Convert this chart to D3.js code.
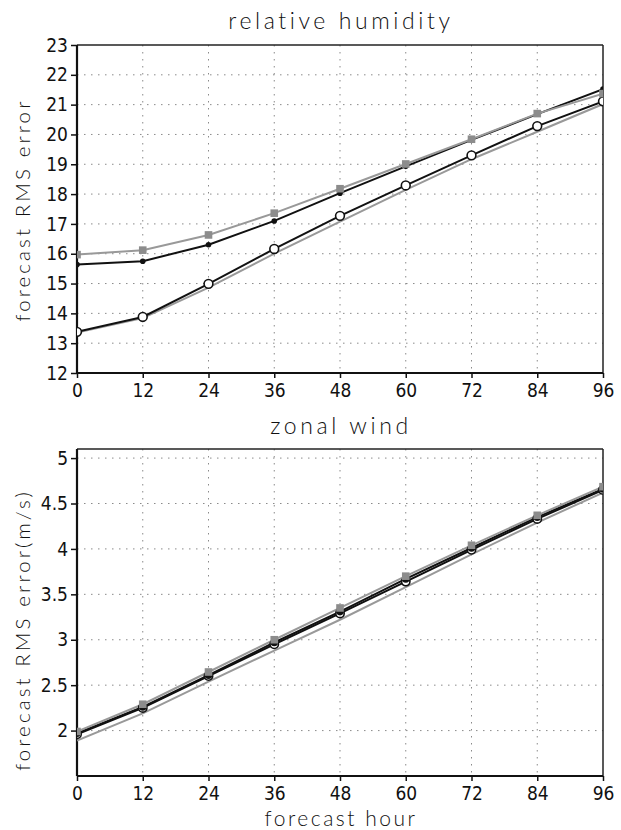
<!DOCTYPE html>
<html>
<head>
<meta charset="utf-8">
<script src="https://cdn.jsdelivr.net/npm/d3@7"></script>
<style>
  html, body { margin: 0; padding: 0; background: #fff; }
  svg { display: block; }
  .tick-label { font-family: "Liberation Sans Narrow", "DejaVu Sans Condensed", "Liberation Sans", sans-serif; font-size: 19px; fill: #111; }
  .title, .axis-title { font-family: "Lato", "DejaVu Sans", sans-serif; font-weight: 300; fill: #111; }
</style>
</head>
<body>
<script>
// Forecast lead times (hours)
const hours = [0, 12, 24, 36, 48, 60, 72, 84, 96];

// Relative humidity RMS error
const rhSquare = [15.97, 16.12, 16.63, 17.36, 18.18, 19.01, 19.84, 20.70, 21.37];
const rhFilled = [15.64, 15.75, 16.30, 17.10, 18.03, 18.93, 19.82, 20.68, 21.52];
const rhOpen   = [13.38, 13.88, 14.99, 16.16, 17.27, 18.29, 19.30, 20.28, 21.11];
const rhPlain  = [13.36, 13.84, 14.86, 16.00, 17.08, 18.14, 19.17, 20.09, 21.02];
const rhTicks  = [12, 13, 14, 15, 16, 17, 18, 19, 20, 21, 22, 23];

// Zonal wind RMS error (m/s)
const uSquare = [1.99, 2.29, 2.645, 3.00, 3.35, 3.70, 4.04, 4.37, 4.685];
const uFilled = [1.97, 2.26, 2.61, 2.97, 3.31, 3.67, 4.01, 4.35, 4.66];
const uOpen   = [1.96, 2.25, 2.60, 2.95, 3.29, 3.64, 3.99, 4.33, 4.65];
const uPlain  = [1.89, 2.19, 2.54, 2.88, 3.22, 3.58, 3.94, 4.29, 4.62];
const uTicks  = [2, 2.5, 3, 3.5, 4, 4.5, 5];
const uTickLabels = ["2", "2.5", "3", "3.5", "4", "4.5", "5"];

const W = 621, H = 830;
const svg = d3.select("body").append("svg").attr("width", W).attr("height", H);

function panel(cfg) {
  const x = d3.scaleLinear().domain([0, 96]).range([77, 603]);
  const y = d3.scaleLinear().domain(cfg.yDomain).range([cfg.bottom, cfg.top]);
  const g = svg.append("g");
  const clipId = "clip" + cfg.id;
  svg.append("clipPath").attr("id", clipId).append("rect")
    .attr("x", 77).attr("y", cfg.top).attr("width", 526).attr("height", cfg.bottom - cfg.top);

  // dotted grid
  g.append("g").selectAll("line").data(hours.filter(h => h > 0 && h < 96)).join("line")
    .attr("x1", d => x(d)).attr("x2", d => x(d)).attr("y1", cfg.top).attr("y2", cfg.bottom)
    .attr("stroke", "#8a8a8a").attr("stroke-width", 1).attr("stroke-dasharray", "1.5,5.5");
  g.append("g").selectAll("line").data(cfg.yTicks.filter(v => y(v) > cfg.top + 1 && y(v) < cfg.bottom - 1)).join("line")
    .attr("x1", 77).attr("x2", 603).attr("y1", d => y(d)).attr("y2", d => y(d))
    .attr("stroke", "#8a8a8a").attr("stroke-width", 1).attr("stroke-dasharray", "1.5,5.5");

  // frame
  g.append("line").attr("x1", 77).attr("x2", 603).attr("y1", cfg.top).attr("y2", cfg.top)
    .attr("stroke", "#222").attr("stroke-width", 1.5);
  g.append("line").attr("x1", 603).attr("x2", 603).attr("y1", cfg.top).attr("y2", cfg.bottom)
    .attr("stroke", "#222").attr("stroke-width", 1.5);

  // axes
  const yAxis = d3.axisLeft(y).tickValues(cfg.yTicks).tickSize(6).tickPadding(3)
    .tickFormat((d, i) => cfg.yLabels[i]);
  const ya = g.append("g").attr("transform", "translate(77,0)").call(yAxis);
  const xAxis = d3.axisBottom(x).tickValues(hours).tickSize(5).tickPadding(6);
  const xa = g.append("g").attr("transform", `translate(0,${cfg.bottom})`).call(xAxis);
  [ya, xa].forEach(a => {
    a.select(".domain").attr("stroke", "#111").attr("stroke-width", 2.2);
    a.selectAll(".tick line").attr("stroke", "#111").attr("stroke-width", 1.5);
    a.selectAll(".tick text").attr("class", "tick-label").attr("font-family", null).attr("font-size", null);
  });
  ya.select(".domain").attr("d", `M0,${cfg.bottom}V${cfg.top}`);
  xa.select(".domain").attr("d", "M77,0H603");

  // series
  const plot = g.append("g").attr("clip-path", `url(#${clipId})`);
  const line = d3.line().x((d, i) => x(hours[i])).y(d => y(d));
  plot.append("path").datum(cfg.plain).attr("d", line)
    .attr("fill", "none").attr("stroke", "#999").attr("stroke-width", 2);
  plot.append("path").datum(cfg.open).attr("d", line)
    .attr("fill", "none").attr("stroke", "#111").attr("stroke-width", 2);
  plot.append("path").datum(cfg.filled).attr("d", line)
    .attr("fill", "none").attr("stroke", "#111").attr("stroke-width", 2);
  plot.append("path").datum(cfg.square).attr("d", line)
    .attr("fill", "none").attr("stroke", "#999").attr("stroke-width", 2);

  plot.append("g").selectAll("circle").data(cfg.open).join("circle")
    .attr("cx", (d, i) => x(hours[i])).attr("cy", d => y(d)).attr("r", cfg.openR)
    .attr("fill", "#fff").attr("stroke", "#111").attr("stroke-width", 1.6);
  plot.append("g").selectAll("circle").data(cfg.filled).join("circle")
    .attr("cx", (d, i) => x(hours[i])).attr("cy", d => y(d)).attr("r", cfg.filledR)
    .attr("fill", "#111");
  plot.append("g").selectAll("rect").data(cfg.square).join("rect")
    .attr("x", (d, i) => x(hours[i]) - 3.8).attr("y", d => y(d) - 3.8)
    .attr("width", 7.6).attr("height", 7.6).attr("fill", "#8c8c8c");

  // titles
  svg.append("text").attr("class", "title").attr("x", 341).attr("y", cfg.titleY)
    .attr("text-anchor", "middle").attr("font-size", 23).attr("letter-spacing", 3.6)
    .text(cfg.title);
  svg.append("text").attr("class", "axis-title")
    .attr("transform", `translate(30,${cfg.ylabY}) rotate(-90)`)
    .attr("text-anchor", "middle").attr("font-size", 20.5).attr("letter-spacing", 3.1)
    .text(cfg.ylabel);
}

panel({
  id: "rh", top: 45, bottom: 373, yDomain: [12, 23], yTicks: rhTicks,
  yLabels: rhTicks.map(String),
  square: rhSquare, filled: rhFilled, open: rhOpen, plain: rhPlain,
  openR: 4.4, filledR: 2.8,
  title: "relative humidity", titleY: 29, ylabel: "forecast RMS error", ylabY: 210
});

panel({
  id: "u", top: 449, bottom: 776, yDomain: [1.5, 5.1], yTicks: uTicks,
  yLabels: uTickLabels,
  square: uSquare, filled: uFilled, open: uOpen, plain: uPlain,
  openR: 4.2, filledR: 3.8,
  title: "zonal wind", titleY: 434, ylabel: "forecast RMS error(m/s)", ylabY: 630
});

svg.append("text").attr("class", "axis-title").attr("x", 341).attr("y", 826)
  .attr("text-anchor", "middle").attr("font-size", 21).attr("letter-spacing", 2.5)
  .text("forecast hour");
</script>
</body>
</html>
